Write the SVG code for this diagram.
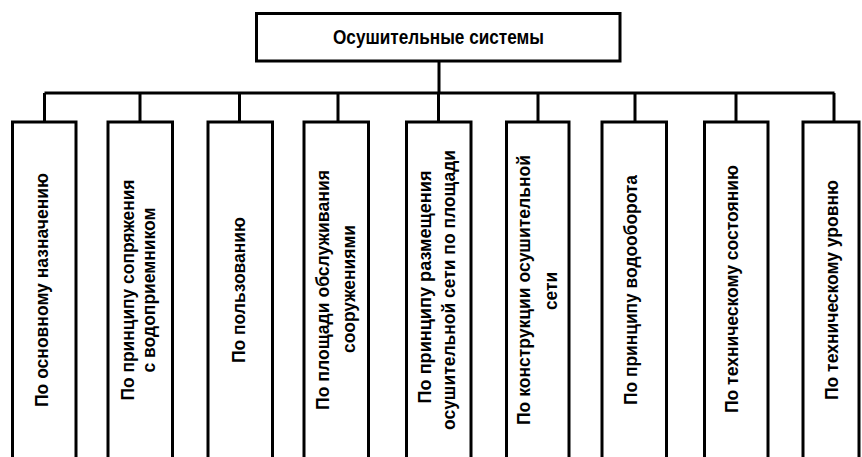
<svg xmlns="http://www.w3.org/2000/svg" width="862" height="457" viewBox="0 0 862 457">
<style>
.box{fill:#fff;stroke:#000;stroke-width:3}
.ln{stroke:#000;stroke-width:3;fill:none}
.t{font-family:"Liberation Sans",Arial,sans-serif;font-weight:bold;font-size:19px;fill:#000;text-anchor:middle}
.title{font-family:"Liberation Sans",Arial,sans-serif;font-weight:bold;font-size:20px;fill:#000;text-anchor:middle}
</style>
<rect width="862" height="457" fill="#fff"/>
<g id="connectors">
<path class="ln" d="M439 61V93M44.5 93H834.5M44.5 93V122M140 93V122M239.5 93V122M338 93V122M438.5 93V122M538 93V122M635 93V122M736 93V122M834 93V122"/>
</g>
<g id="root">
<rect class="box" x="256.5" y="13.5" width="363.5" height="47.5"/>
<text class="title" x="438.5" y="44" textLength="211" lengthAdjust="spacingAndGlyphs">Осушительные системы</text>
</g>
<g id="n1">
<rect class="box" x="12.5" y="122" width="63.5" height="360"/>
<text class="t" transform="translate(43,290) rotate(-90)" x="0" y="5" textLength="234" lengthAdjust="spacingAndGlyphs">По основному назначению</text>
</g>
<g id="n2">
<rect class="box" x="108" y="122" width="64.5" height="360"/>
<text class="t" transform="translate(129,290) rotate(-90)" x="0" y="5" textLength="221" lengthAdjust="spacingAndGlyphs">По принципу сопряжения</text>
<text class="t" transform="translate(150,290) rotate(-90)" x="0" y="5" textLength="165" lengthAdjust="spacingAndGlyphs">с водоприемником</text>
</g>
<g id="n3">
<rect class="box" x="208" y="122" width="64.5" height="360"/>
<text class="t" transform="translate(240,290) rotate(-90)" x="0" y="5" textLength="146" lengthAdjust="spacingAndGlyphs">По пользованию</text>
</g>
<g id="n4">
<rect class="box" x="304" y="122" width="64.5" height="360"/>
<text class="t" transform="translate(324,290) rotate(-90)" x="0" y="5" textLength="240" lengthAdjust="spacingAndGlyphs">По площади обслуживания</text>
<text class="t" transform="translate(350,289) rotate(-90)" x="0" y="5" textLength="128" lengthAdjust="spacingAndGlyphs">сооружениями</text>
</g>
<g id="n5">
<rect class="box" x="406.5" y="122" width="64.5" height="360"/>
<text class="t" transform="translate(426,287) rotate(-90)" x="0" y="5" textLength="233" lengthAdjust="spacingAndGlyphs">По принципу размещения</text>
<text class="t" transform="translate(450,290) rotate(-90)" x="0" y="5" textLength="280" lengthAdjust="spacingAndGlyphs">осушительной сети по площади</text>
</g>
<g id="n6">
<rect class="box" x="506.5" y="122" width="62.5" height="360"/>
<text class="t" transform="translate(525,290) rotate(-90)" x="0" y="5" textLength="270" lengthAdjust="spacingAndGlyphs">По конструкции осушительной</text>
<text class="t" transform="translate(552,291) rotate(-90)" x="0" y="5" textLength="38" lengthAdjust="spacingAndGlyphs">сети</text>
</g>
<g id="n7">
<rect class="box" x="602" y="122" width="64.5" height="360"/>
<text class="t" transform="translate(632,290) rotate(-90)" x="0" y="5" textLength="230" lengthAdjust="spacingAndGlyphs">По принципу водооборота</text>
</g>
<g id="n8">
<rect class="box" x="704.5" y="122" width="63.5" height="360"/>
<text class="t" transform="translate(733,289) rotate(-90)" x="0" y="5" textLength="248" lengthAdjust="spacingAndGlyphs">По техническому состоянию</text>
</g>
<g id="n9">
<rect class="box" x="803" y="122" width="56" height="360"/>
<text class="t" transform="translate(833,290) rotate(-90)" x="0" y="5" textLength="220" lengthAdjust="spacingAndGlyphs">По техническому уровню</text>
</g>
</svg>
